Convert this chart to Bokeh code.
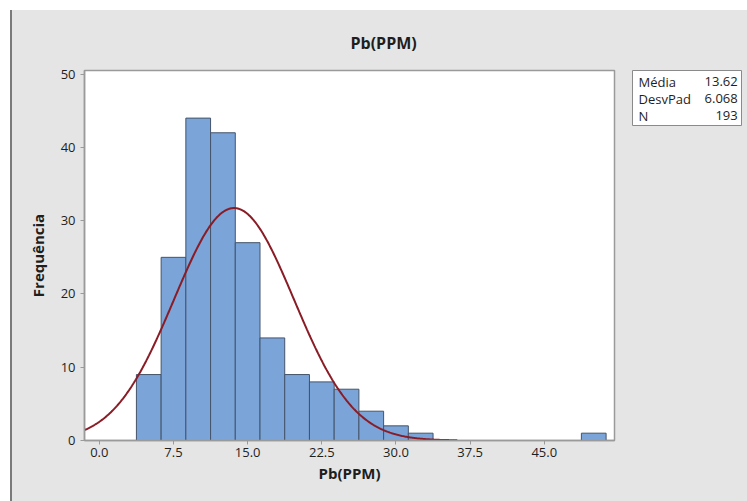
import numpy as np
from bokeh.plotting import figure
from bokeh.models import FixedTicker, PrintfTickFormatter, ColumnDataSource, Range1d
from bokeh.layouts import row
from bokeh.embed import file_html
from bokeh.resources import INLINE
from bokeh.core.properties import value

# ---------------- data ----------------
title_text = "Pb(PPM)"
x_label = "Pb(PPM)"
y_label = "Frequência"
bin_mid = [5.0, 7.5, 10.0, 12.5, 15.0, 17.5, 20.0, 22.5, 25.0, 27.5, 30.0, 32.5, 50.0]
counts = [9, 25, 44, 42, 27, 14, 9, 8, 7, 4, 2, 1, 1]
bin_width = 2.5
x_ticks = [0.0, 7.5, 15.0, 22.5, 30.0, 37.5, 45.0]
y_ticks = [0, 10, 20, 30, 40, 50]
stat_names = ["Média", "DesvPad", "N"]
stat_values = ["13.62", "6.068", "193"]
mean = 13.62
sd = 6.068
n_obs = 193
curve_start = -1.5
curve_end = 36.2

# ---------------- style ----------------
FONT = "Open Sans"
BG = "#E5E5E5"
FRAME = "#9A9A9A"
BAR_FILL = "#7BA4D9"
BAR_LINE = "#44546A"
CURVE = "#8A1C26"
TXT = "#1E1E1E"

p = figure(frame_width=530, frame_height=370,
           min_border_left=72, min_border_right=14, min_border_top=60, min_border_bottom=61,
           x_range=Range1d(-1.5, 52.1), y_range=Range1d(0, 50.5),
           output_backend="svg", toolbar_location=None,
           background_fill_color="white", border_fill_color=BG)
p.outline_line_color = FRAME
p.outline_line_width = 1.5
p.grid.visible = False

p.title.text = title_text
p.title.align = "left"
p.title.offset = 266
p.title.standoff = 34
p.title.text_font = FONT
p.title.text_font_size = "16px"
p.title.text_font_style = "bold"
p.title.text_color = TXT

left = [m - bin_width / 2 for m in bin_mid]
right = [m + bin_width / 2 for m in bin_mid]
src = ColumnDataSource(dict(left=left, right=right, top=counts, bottom=[0] * len(counts)))
p.quad(left="left", right="right", top="top", bottom="bottom", source=src,
       fill_color=BAR_FILL, line_color=BAR_LINE, line_width=1)

xs = np.linspace(curve_start, curve_end, 400)
ys = n_obs * bin_width * np.exp(-0.5 * ((xs - mean) / sd) ** 2) / (sd * np.sqrt(2 * np.pi))
p.line(xs, ys, line_color=CURVE, line_width=2)

p.xaxis.ticker = FixedTicker(ticks=x_ticks)
p.xaxis.formatter = PrintfTickFormatter(format="%.1f")
p.yaxis.ticker = FixedTicker(ticks=y_ticks)
for ax in (p.xaxis, p.yaxis):
    ax.axis_line_color = FRAME
    ax.axis_line_width = 1.5
    ax.major_tick_line_color = FRAME
    ax.major_tick_out = 4
    ax.major_tick_in = 0
    ax.minor_tick_line_color = None
    ax.major_label_text_font = FONT
    ax.major_label_text_font_size = "13px"
    ax.major_label_text_color = TXT
    ax.axis_label_text_font = FONT
    ax.axis_label_text_font_size = "15px"
    ax.axis_label_text_font_style = "bold"
    ax.axis_label_text_color = TXT
p.xaxis.axis_label = x_label
p.yaxis.axis_label = y_label
p.xaxis.major_label_standoff = 3
p.xaxis.axis_label_standoff = 3
p.yaxis.major_label_standoff = 5
p.yaxis.axis_label_standoff = 10

# ---------------- stats box ----------------
s = figure(frame_width=109, frame_height=55,
           min_border_left=4, min_border_right=6, min_border_top=56, min_border_bottom=380,
           x_range=Range1d(0, 1), y_range=Range1d(0, 1),
           x_axis_location=None, y_axis_location=None,
           output_backend="svg", toolbar_location=None,
           background_fill_color="white", border_fill_color=BG)
s.outline_line_color = "#8A8A8A"
s.outline_line_width = 1
s.grid.visible = False
row_y = [0.8, 0.49, 0.18]
s.text(x=[0.055] * 3, y=row_y, text=stat_names, text_align="left", text_baseline="middle",
       text_font=value(FONT), text_font_size="13px", text_color=TXT)
s.text(x=[0.965] * 3, y=row_y, text=stat_values, text_align="right", text_baseline="middle",
       text_font=value(FONT), text_font_size="13px", text_color=TXT)

layout = row(p, s, margin=(10, 0, 0, 10),
             styles={"background-color": BG, "border-left": "2px solid #7A7A7A"})
open("out.html", "w").write(file_html(layout, INLINE))
